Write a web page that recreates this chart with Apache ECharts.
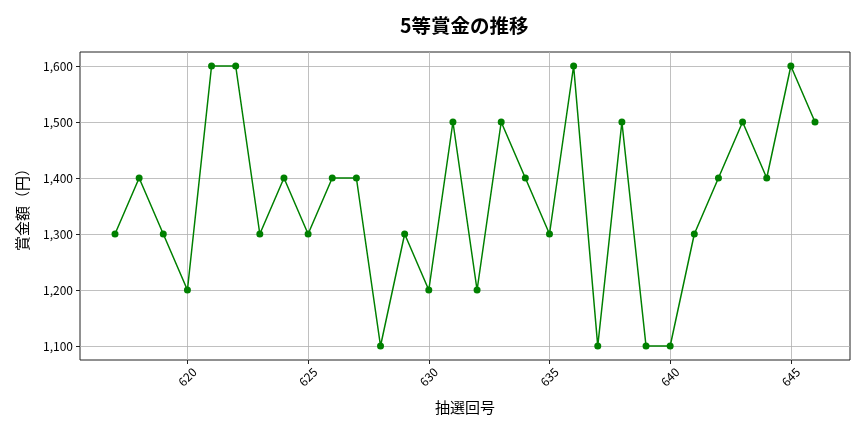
<!DOCTYPE html>
<html>
<head>
<meta charset="utf-8">
<script src="https://cdn.jsdelivr.net/npm/echarts@6/dist/echarts.min.js"></script>
<style>html,body{margin:0;padding:0;background:#fff;}#c{width:864px;height:432px;}</style>
</head>
<body>
<div id="c"></div>
<script>
const draws = [617,618,619,620,621,622,623,624,625,626,627,628,629,630,631,632,633,634,635,636,637,638,639,640,641,642,643,644,645,646];
const prizes = [1300,1400,1300,1200,1600,1600,1300,1400,1300,1400,1400,1100,1300,1200,1500,1200,1500,1400,1300,1600,1100,1500,1100,1100,1300,1400,1500,1400,1600,1500];
const xTicks = [620,625,630,635,640,645];
const yTicks = [1100,1200,1300,1400,1500,1600];
const titleText = '5等賞金の推移';
const xName = '抽選回号';
const yName = '賞金額（円）';

const font = '"Noto Sans CJK JP", "Noto Sans", sans-serif';
const chart = echarts.init(document.getElementById('c'));
const xMin = 615.55, xMax = 647.45;
chart.setOption({
  animation: false,
  backgroundColor: '#fff',
  title: {
    text: titleText, left: 395, top: 11,
    textStyle: {fontFamily: font, fontSize: 19.5, fontWeight: 'bold', color: '#000'}
  },
  grid: {left: 80, right: 14, top: 52, bottom: 72, show: true, borderColor: '#222', borderWidth: 1, backgroundColor: 'transparent'},
  xAxis: {
    type: 'value', min: xMin, max: xMax,
    name: xName, nameLocation: 'middle', nameGap: 40,
    nameTextStyle: {fontFamily: font, fontSize: 15, color: '#000'},
    axisLine: {show: false},
    axisTick: {show: true, length: 4, lineStyle: {color: '#222'}, customValues: xTicks},
    axisLabel: {customValues: xTicks, rotate: 45, align: 'center', verticalAlign: 'middle', margin: 17,
      fontFamily: font, fontSize: 12, color: '#000', formatter: v => String(v)},
    splitLine: {show: true, lineStyle: {color: '#b0b0b0', width: 0.8}}
  },
  yAxis: {
    type: 'value', min: 1075, max: 1625,
    name: yName, nameLocation: 'middle', nameGap: 50, nameRotate: 90,
    nameTextStyle: {fontFamily: font, fontSize: 15, color: '#000'},
    axisLine: {show: false},
    axisTick: {show: true, length: 4, lineStyle: {color: '#222'}, customValues: yTicks},
    axisLabel: {customValues: yTicks, margin: 7, fontFamily: font, fontSize: 12, color: '#000',
      formatter: v => Number(v).toLocaleString('en-US')},
    splitLine: {show: true, lineStyle: {color: '#b0b0b0', width: 0.8}}
  },
  series: [{
    type: 'line',
    data: draws.map((d, i) => [d, prizes[i]]),
    symbol: 'circle', symbolSize: 7,
    lineStyle: {color: '#008000', width: 1.5},
    itemStyle: {color: '#008000'}
  }]
});
</script>
</body>
</html>
